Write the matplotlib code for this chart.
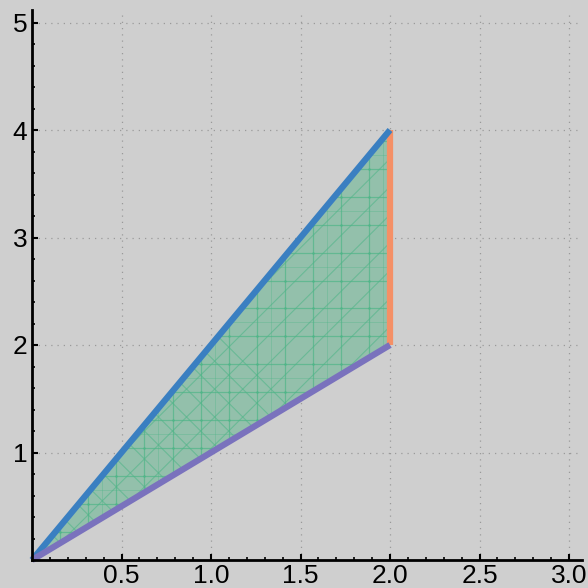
import matplotlib.pyplot as plt
import numpy as np

# region vertices
region_x = [0, 2, 2]
region_y = [0, 4, 2]

# boundary segments
upper_x, upper_y = [0, 2], [0, 4]
lower_x, lower_y = [0, 2], [0, 2]
right_x, right_y = [2, 2], [2, 4]

x_ticks = [0.5, 1.0, 1.5, 2.0, 2.5, 3.0]
x_labels = ["0.5", "1.0", "1.5", "2.0", "2.5", "3.0"]
y_ticks = [1, 2, 3, 4, 5]
y_labels = ["1", "2", "3", "4", "5"]

bg = "#cfcfcf"
plt.rcParams['font.family'] = ['Liberation Sans', 'DejaVu Sans']

fig = plt.figure(figsize=(5.88, 5.88), dpi=100, facecolor=bg)
ax = fig.add_axes([0, 0, 1, 1], facecolor=bg)

ax.set_xlim(-32 / 179, 556 / 179)
ax.set_ylim(-28 / 107.5, 560 / 107.5)

# grid
for xv in x_ticks:
    ax.plot([xv, xv], [0, 5.1], color="#9a9a9a", lw=0.9, ls=(0, (1, 4)), zorder=1)
for yv in y_ticks:
    ax.plot([0, 3.07], [yv, yv], color="#9a9a9a", lw=0.9, ls=(0, (1, 4)), zorder=1)

# filled region
patch = ax.fill(region_x, region_y, facecolor="#93c0ab", edgecolor="none", zorder=2)[0]

# mesh lines inside the region (square cells with diagonals)
mesh_col = "#4fb588"
dx, dy = 0.157, 0.26
k = dy / dx
xs = np.arange(0, 2.01, dx / 2)
ys = np.arange(0, 4.01, dy / 2)
mesh = []
for xv in xs[::2]:
    mesh += ax.plot([xv, xv], [0, 4], color=mesh_col, lw=0.9, alpha=0.7, zorder=3)
for yv in ys[::2]:
    mesh += ax.plot([0, 2], [yv, yv], color=mesh_col, lw=0.9, alpha=0.7, zorder=3)
for c in np.arange(-4, 4.01, dy):
    mesh += ax.plot([0, 2], [c, c + 2 * k], color=mesh_col, lw=0.8, alpha=0.6, zorder=3)
    mesh += ax.plot([0, 2], [c, c - 2 * k], color=mesh_col, lw=0.8, alpha=0.6, zorder=3)
for xv in xs[1::4]:
    mesh += ax.plot([xv, xv], [0, 4], color=mesh_col, lw=0.6, alpha=0.4, zorder=3)
for yv in ys[1::4]:
    mesh += ax.plot([0, 2], [yv, yv], color=mesh_col, lw=0.6, alpha=0.4, zorder=3)
gx, gy = np.meshgrid(xs[::2], ys[::2])
mesh.append(ax.scatter(gx.ravel(), gy.ravel(), s=3, color=mesh_col, lw=0, zorder=3))
for m in mesh:
    m.set_clip_path(patch)

ax.plot(upper_x, upper_y, color="#3a7fc1", lw=4.5, solid_capstyle="butt", zorder=5)
ax.plot(lower_x, lower_y, color="#7a72bd", lw=4.5, solid_capstyle="butt", zorder=5)
ax.plot(right_x, right_y, color="#f59066", lw=4.5, solid_capstyle="butt", zorder=4)

# axes through origin
for s in ["top", "right"]:
    ax.spines[s].set_visible(False)
ax.spines["left"].set_position(("data", 0))
ax.spines["bottom"].set_position(("data", 0))
ax.spines["left"].set_bounds(0, 5.12)
ax.spines["bottom"].set_bounds(0, 3.07)
for s in ["left", "bottom"]:
    ax.spines[s].set_linewidth(2)
    ax.spines[s].set_zorder(6)

ax.set_xticks(x_ticks)
ax.set_xticklabels(x_labels)
ax.set_yticks(y_ticks)
ax.set_yticklabels(y_labels)
ax.set_xticks(np.arange(0.1, 3.05, 0.1), minor=True)
ax.set_yticks(np.arange(0.2, 5.05, 0.2), minor=True)
ax.tick_params(axis="both", which="major", direction="in", length=4, width=1.5,
               labelsize=19, colors="black")
ax.tick_params(axis="x", which="major", pad=3)
ax.tick_params(axis="y", which="major", pad=3.5)
ax.tick_params(axis="both", which="minor", direction="in", length=2.5, width=1.2)

fig.savefig("out.png", dpi=100, facecolor=bg)
